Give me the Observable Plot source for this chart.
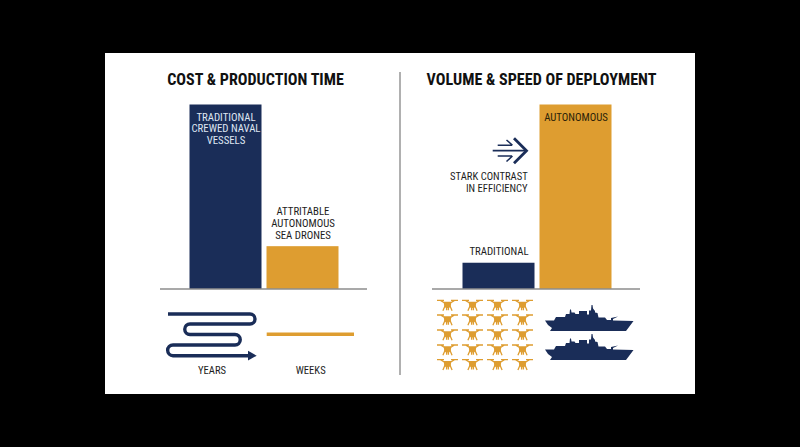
<!DOCTYPE html>
<html><head><meta charset="utf-8">
<script src="https://cdn.jsdelivr.net/npm/d3@7"></script>
<script src="https://cdn.jsdelivr.net/npm/@observablehq/plot@0.6"></script>
<style>html,body{margin:0;background:#000;width:800px;height:447px;overflow:hidden}svg{display:block;background:transparent}</style>
</head><body><div id="c"></div>
<script>
const panels = ["cost", "cost", "volume", "volume"];
const series = ["traditional", "autonomous", "traditional", "autonomous"];
const values = [100, 23, 14, 100];
const barLabels = ["TRADITIONAL\nCREWED NAVAL\nVESSELS", "", "", "AUTONOMOUS"];
const outerLabels = ["", "ATTRITABLE\nAUTONOMOUS\nSEA DRONES", "TRADITIONAL", ""];
const NAVY = "#1a2d58", GOLD = "#de9d30", INK = "#1d1d1d";
const FONT = "'Roboto Condensed','Liberation Sans Narrow','Liberation Sans',sans-serif";
const table = values.map((v, i) => ({panel: panels[i], series: series[i], value: v, inner: barLabels[i], outer: outerLabels[i]}));
const svgNS = "http://www.w3.org/2000/svg";
function el(tag, attrs, parent){const e=document.createElementNS(svgNS,tag);for(const k in attrs)e.setAttribute(k,attrs[k]);if(parent)parent.appendChild(e);return e;}
const droneArms = "M-10.5 -4.3H-3.5M3.5 -4.3H10.5M-7 -4.3L-2.5 -1.5M7 -4.3L2.5 -1.5M-2.4 1L-4.6 6M2.4 1L4.6 6M-0.9 2V5.5M0.9 2V5.5";
const droneBody = "M-3.8 -3H3.8L3.3 1.5L1.6 3.2H-1.6L-3.3 1.5Z";
const ship = "M0 15.5H9L11 12H20L21 9H24.5L25 4.5H26L26.5 7.5H29.5L30.5 9H34V6H42V9.5H44V5.5H46L46.5 0H47.5L48 3.5L50 6V7.5L52.5 8L53.5 12.5H60L62 15H66V13L73 11.5L68 14V15.5L88.5 16L81 26H5L7 23L3 20Z";
const titleStyle = {frameAnchor:"top", dy:-31.5, fontSize:16.1, fontWeight:"bold", fill:"#111"};
const chart = Plot.plot({
  width: 800, height: 447,
  marginLeft: 188.5, marginRight: 189, marginTop: 104.5, marginBottom: 158.5,
  style: {background: "transparent", fontFamily: FONT},
  fx: {domain: ["cost","volume"], paddingInner: 0.453, paddingOuter: 0, axis: null},
  x: {domain: ["traditional","autonomous"], paddingInner: 0.065, paddingOuter: 0, axis: null},
  y: {domain: [0,100], axis: null},
  color: {domain:["traditional","autonomous"], range:[NAVY,GOLD]},
  marks: [
    Plot.barY(table, {fx:"panel", x:"series", y:"value", fill:"series"}),
    Plot.ruleY(["cost"], {fx:d=>d, y:()=>0, stroke:"#555", strokeWidth:1.2, insetLeft:-29, insetRight:-29}),
    Plot.ruleY(["volume"], {fx:d=>d, y:()=>0, stroke:"#555", strokeWidth:1.2, insetLeft:-30, insetRight:-29}),
    Plot.text(table, {fx:"panel", x:"series", y:"value", text:"inner", lineAnchor:"top", dy:7, fill:d=>d.series==="traditional"?"#dfe6f2":"#2a2208", fontSize:10.8, lineHeight:1.11}),
    Plot.text(table, {fx:"panel", x:"series", y:"value", text:"outer", lineAnchor:"bottom", dy:-8, fill:INK, fontSize:10.8, lineHeight:1.11}),
    Plot.text(["cost"], {fx:d=>d, text:()=>"COST & PRODUCTION TIME", dx:-8.5, ...titleStyle}),
    Plot.text(["volume"], {fx:d=>d, text:()=>"VOLUME & SPEED OF DEPLOYMENT", dx:4.5, ...titleStyle})
  ]
});
// panel and pictograms, in page pixels over the whole image
const g0 = el("rect",{x:105,y:53,width:590,height:341,fill:"#fff"});
chart.insertBefore(g0, chart.firstChild.nextSibling);
const g = el("g",{},chart);
el("line",{x1:400,y1:72,x2:400,y2:375,stroke:"#a8a8a8","stroke-width":1.8},g);
el("path",{d:"M168 314H250A5 5 0 0 1 250 324H190A5.25 5.25 0 0 0 190 334.5H235A5.25 5.25 0 0 1 235 345H173A5.35 5.35 0 0 0 173 355.7H248",fill:"none",stroke:NAVY,"stroke-width":3.4},g);
el("path",{d:"M248 350.7L256.7 355.7L248 360.5Z",fill:NAVY},g);
el("line",{x1:266.7,y1:334.3,x2:354,y2:334.3,stroke:GOLD,"stroke-width":3.6},g);
el("path",{d:"M492.7 150.7H526",fill:"none",stroke:NAVY,"stroke-width":1.8},g);
el("path",{d:"M514 138.3L526.5 150.7L514 163.3",fill:"none",stroke:NAVY,"stroke-width":2.8},g);
el("path",{d:"M497.7 145.3H512M506.5 140L512.5 145.3M497.7 156H512M506.5 161.5L512.5 156",fill:"none",stroke:NAVY,"stroke-width":1.5},g);
for (const y of [304.7,319.3,334.3,349.3,364]) for (const x of [447.5,472.5,497.5,522.5]) {
  const d = el("g",{transform:`translate(${x},${y})`},g);
  el("path",{d:droneArms,fill:"none",stroke:GOLD,"stroke-width":1.3},d);
  el("path",{d:droneBody,fill:GOLD},d);
}
for (const y of [305,334]) el("path",{d:ship,fill:NAVY,transform:`translate(545,${y})`},g);
const labels = [["YEARS",212,370,"middle"],["WEEKS",310.7,370,"middle"],["STARK CONTRAST",527.7,176.7,"end"],["IN EFFICIENCY",527.7,188.7,"end"]];
for (const [t,x,y,a] of labels) {
  const e = el("text",{x,y,"text-anchor":a,dy:"0.35em",fill:INK,"font-size":10.6,"font-family":FONT},g);
  e.textContent = t;
}
document.getElementById("c").appendChild(chart);
</script></body></html>
